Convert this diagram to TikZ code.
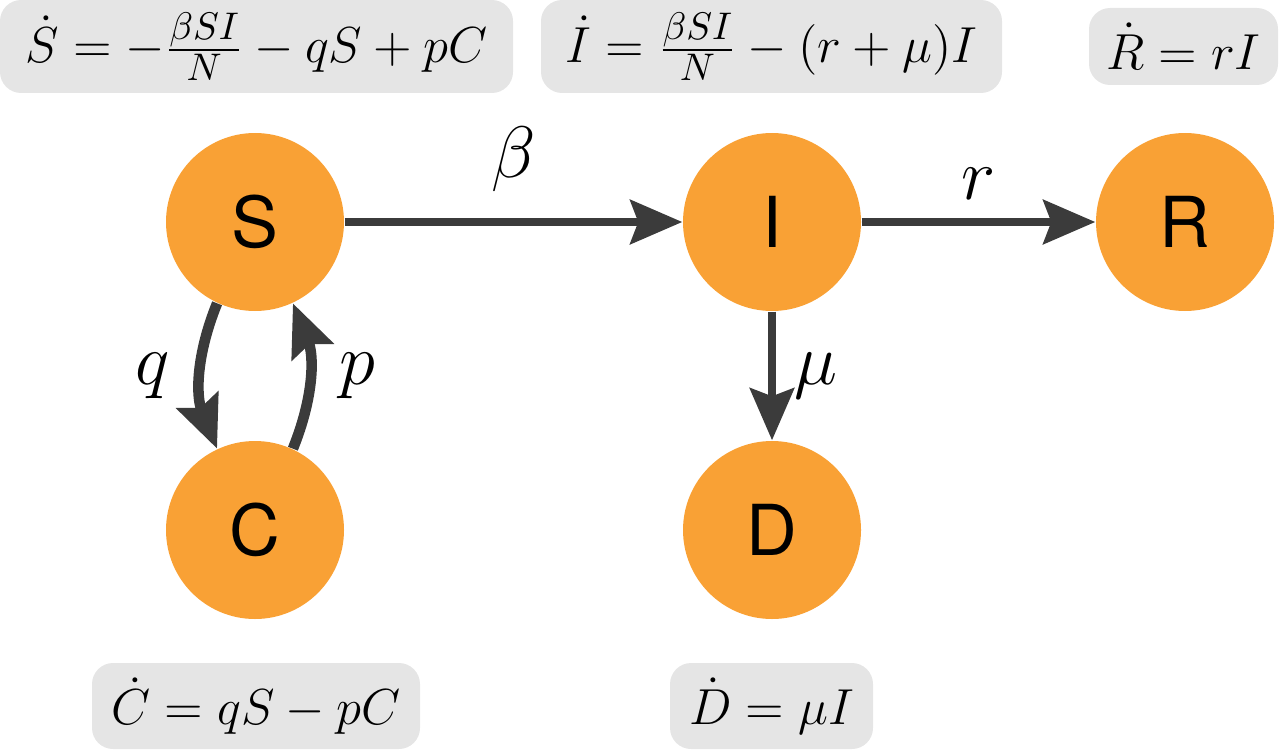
\documentclass[tikz,border=0pt]{standalone}
\usepackage{fontspec}
\usepackage{amsmath}
\setsansfont{TeX Gyre Heros}
\usetikzlibrary{arrows.meta, positioning}
\definecolor{comporange}{HTML}{F9A135}
\definecolor{eqgray}{HTML}{E5E5E5}
\definecolor{arrowgray}{HTML}{3B3B3B}
\tikzset{
  comp/.style={circle, fill=comporange, minimum size=1.78cm, inner sep=0pt,
               font=\sffamily\fontsize{20}{24}\selectfont},
  eqbox/.style={fill=eqgray, rounded corners=6pt, inner sep=0pt,
                minimum height=0.93cm, font=\fontsize{15}{18}\selectfont},
  flow/.style={-{Stealth[length=5.2mm, width=4.4mm, inset=0.8mm]}, line width=2.4pt, draw=arrowgray},
  loopflow/.style={flow, line width=3pt},
  rate/.style={font=\fontsize{20}{24}\selectfont},
}

\begin{document}
\begin{tikzpicture}
  \useasboundingbox (0,0) rectangle (12.8,7.5);
  % compartments
  \node[comp] (S) at (2.55,5.28) {S};
  \node[comp] (I) at (7.72,5.28) {I};
  \node[comp] (R) at (11.85,5.28) {R};
  \node[comp] (C) at (2.55,2.20) {C};
  \node[comp] (D) at (7.72,2.20) {D};
  % equations
  \node[eqbox, minimum width=5.13cm] (eqS) at (2.565,7.035) {$\dot S = -\frac{\beta S I}{N} - qS + pC$};
  \node[eqbox, minimum width=4.61cm] (eqI) at (7.715,7.035) {$\dot I = \frac{\beta S I}{N} - (r+\mu)I$};
  \node[eqbox, minimum width=1.89cm, minimum height=0.77cm] (eqR) at (11.835,7.035) {$\dot R = rI$};
  \node[eqbox, minimum width=3.28cm, minimum height=0.86cm] (eqC) at (2.56,0.44) {$\dot C = qS - pC$};
  \node[eqbox, minimum width=2.03cm, minimum height=0.86cm] (eqD) at (7.715,0.44) {$\dot D = \mu I$};
  % transitions
  \draw[flow] (S) -- node[rate, above=4pt] {$\beta$} (I);
  \draw[flow] (I) -- node[rate, above=2pt] {$r$} (R);
  \draw[flow] (I) -- node[rate, right=2pt] {$\mu$} (D);
  \draw[loopflow] (S.245) to[bend right=22] node[rate, left=4pt] {$q$} (C.115);
  \draw[loopflow] (C.65) to[bend right=22] node[rate, right=4pt] {$p$} (S.295);
\end{tikzpicture}
\end{document}
